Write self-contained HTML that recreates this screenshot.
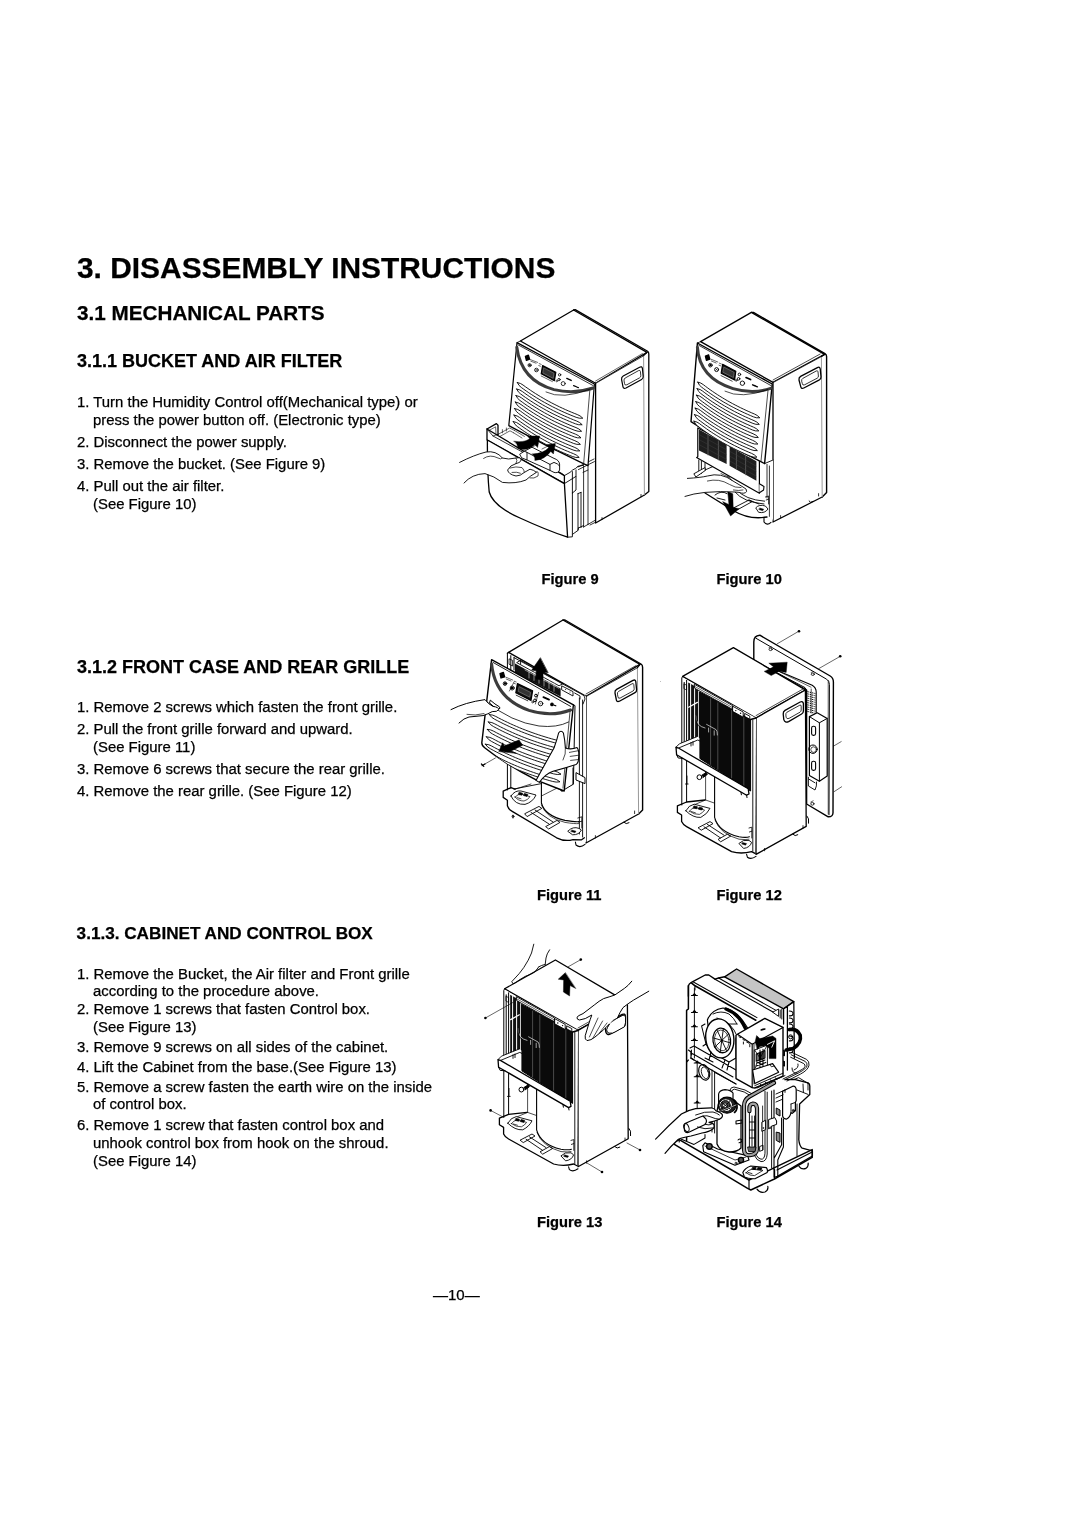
<!DOCTYPE html>
<html lang="en">
<head>
<meta charset="utf-8">
<title>3. Disassembly Instructions</title>
<style>
html,body{margin:0;padding:0;background:#fff;}
body{width:1080px;height:1527px;overflow:hidden;}
svg{display:block;will-change:transform;}
text{font-family:"Liberation Sans",Arial,Helvetica,sans-serif;fill:#000;white-space:pre;stroke:#000;stroke-width:0.25px;}
.h1{font-weight:bold;font-size:29.9px;}
.h2{font-weight:bold;font-size:20.7px;}
.h3{font-weight:bold;font-size:18px;}
.b{font-size:14.9px;}
.fl{font-weight:bold;font-size:14.7px;}
.ln{fill:none;stroke:#000;stroke-width:1.1;stroke-linecap:round;stroke-linejoin:round;}
.lt{fill:none;stroke:#000;stroke-width:0.7;stroke-linecap:round;stroke-linejoin:round;}
.lb{fill:none;stroke:#000;stroke-width:1.6;stroke-linecap:round;stroke-linejoin:round;}
.wf{fill:#fff;stroke:#000;stroke-width:1.1;stroke-linejoin:round;stroke-linecap:round;}
.bk{fill:#000;stroke:none;}
</style>
</head>
<body>
<svg width="1080" height="1527" viewBox="0 0 1080 1527">
<rect width="1080" height="1527" fill="#fff"/>
<!-- TEXT -->
<g id="text">
<text class="h1" x="77" y="277.5">3. DISASSEMBLY INSTRUCTIONS</text>
<text class="h2" x="77" y="320">3.1 MECHANICAL PARTS</text>
<text class="h3" x="77" y="367">3.1.1 BUCKET AND AIR FILTER</text>
<text class="b" x="77" y="407">1. Turn the Humidity Control off(Mechanical type) or</text>
<text class="b" x="93" y="425">press the power button off. (Electronic type)</text>
<text class="b" x="77" y="446.6">2. Disconnect the power supply.</text>
<text class="b" x="77" y="468.7">3. Remove the bucket. (See Figure 9)</text>
<text class="b" x="77" y="490.6">4. Pull out the air filter.</text>
<text class="b" x="93" y="509.2">(See Figure 10)</text>

<text class="h3" x="77" y="672.6">3.1.2 FRONT CASE AND REAR GRILLE</text>
<text class="b" x="77" y="711.5">1. Remove 2 screws which fasten the front grille.</text>
<text class="b" x="77" y="733.7">2. Pull the front grille forward and upward.</text>
<text class="b" x="93" y="751.5">(See Figure 11)</text>
<text class="b" x="77" y="773.7">3. Remove 6 screws that secure the rear grille.</text>
<text class="b" x="77" y="795.9">4. Remove the rear grille. (See Figure 12)</text>

<text class="h3" x="76.6" y="938.9" style="font-size:17.15px">3.1.3. CABINET AND CONTROL BOX</text>
<text class="b" x="77" y="978.9">1. Remove the Bucket, the Air filter and Front grille</text>
<text class="b" x="93" y="996">according to the procedure above.</text>
<text class="b" x="77" y="1013.7">2. Remove 1 screws that fasten Control box.</text>
<text class="b" x="93" y="1031.5">(See Figure 13)</text>
<text class="b" x="77" y="1051.9">3. Remove 9 screws on all sides of the cabinet.</text>
<text class="b" x="77" y="1071.5">4. Lift the Cabinet from the base.(See Figure 13)</text>
<text class="b" x="77" y="1091.5">5. Remove a screw fasten the earth wire on the inside</text>
<text class="b" x="93" y="1109.3">of control box.</text>
<text class="b" x="77" y="1129.6">6. Remove 1 screw that fasten control box and</text>
<text class="b" x="93" y="1147.8">unhook control box from hook on the shroud.</text>
<text class="b" x="93" y="1165.6">(See Figure 14)</text>

<text class="fl" x="541.5" y="584.4">Figure 9</text>
<text class="fl" x="716.5" y="584.4">Figure 10</text>
<text class="fl" x="537" y="900">Figure 11</text>
<text class="fl" x="716.5" y="900">Figure 12</text>
<text class="fl" x="537" y="1227.2">Figure 13</text>
<text class="fl" x="716.5" y="1227.2">Figure 14</text>
<text class="b" x="433" y="1300" style="font-size:15px">—10—</text>
</g>
<!-- FIGURES -->
<g id="fig9" transform="translate(450,300) scale(0.2)" stroke-linecap="round" stroke-linejoin="round" fill="none" stroke="#000" stroke-width="6.5">
<path d="M352,205 L618,50 L985,262 L728,416 Z" fill="#fff"/>
<path d="M618,50 L626,48 L988,256 Q994,260 994,270 L994,957 L972,975" />
<path d="M728,405 L962,268" stroke-width="3"/>
<path d="M728,416 L968,278 L972,975 L728,1115 Z" fill="#fff" stroke="none"/>
<path d="M728,416 L728,1115 L972,975"/>
<path d="M728,417 L968,279" stroke-width="4"/>
<path d="M968,279 L972,975" stroke="#8c8c8c" stroke-width="4.5"/>
<path d="M968,278 L985,262"/>
<path d="M858,398 Q856,386 866,380 L948,336 Q960,330 962,342 L966,382 Q967,392 958,397 L880,440 Q868,446 865,434 Z" stroke-width="6"/>
<path d="M870,402 Q869,394 876,390 L943,353 Q951,349 952,357 L954,378 Q955,385 948,389 L884,424 Q874,429 873,420 Z" stroke-width="4"/>
<path d="M955,972 L955,984 M760,1088 L760,1097" stroke-width="4"/>
<path d="M668,830 L668,1135 M690,822 L690,1122 M690,1122 L728,1100 M668,1135 L690,1122 M700,1125 L726,1112" stroke-width="4"/>
<path d="M640,835 L720,795 M642,848 L722,808 M665,862 L690,850" stroke-width="4"/>
<path d="M335,213 L722,420 L690,828 L667,818 Q480,730 294,628 Z" fill="#fff" stroke-width="6"/>
<path d="M352,205 L335,213 M340,224 L716,428" stroke-width="4"/>
<path d="M700,440 L668,822" stroke-width="3.5"/>
<path d="M334,236 Q356,402 520,448 Q620,472 716,440" stroke="#3c3c3c" stroke-width="15"/>
<path d="M480,460 Q560,500 700,446" stroke-width="3.5"/>
<path d="M377,282 L392,276 L398,296 L382,302 Z" fill="#000"/>
<path d="M402,298 L438,312 M404,306 L430,316 M446,318 L456,322 M444,328 L452,331" stroke-width="3"/>
<circle cx="398" cy="326" r="8" stroke-width="4"/><circle cx="398" cy="326" r="2" fill="#000"/>
<circle cx="432" cy="350" r="9" stroke-width="4"/><path d="M428,346 L436,354 M436,346 L428,354" stroke-width="3"/>
<path d="M463,328 L529,362 L522,403 L456,369 Z" stroke-width="6" fill="#111"/>
<path d="M470,340 L520,366 L516,392 L466,366 Z" stroke-width="3" fill="#333" stroke="#888"/>
<path d="M456,380 L512,408" stroke-width="3"/>
<circle cx="548" cy="374" r="6" stroke-width="4"/><circle cx="545" cy="398" r="6" stroke-width="4"/><circle cx="533" cy="405" r="4" stroke-width="3"/>
<circle cx="566" cy="418" r="10" stroke-width="4"/>
<path d="M584,392 L606,402" stroke-width="7"/>
<path d="M618,428 L632,434 M636,436 L642,438" stroke-width="6"/>
<path d="M337.0,413.0 L352.5,417.4 L365.3,425.2 L377.4,434.0 L389.7,442.6 L402.1,451.1 L414.6,459.5 L427.3,467.7 L440.2,475.7 L453.2,483.6 L466.3,491.4 L479.6,499.0 L493.1,506.4 L506.7,513.7 L520.5,520.8 L534.4,527.8 L548.5,534.7 L562.7,541.4 L577.1,547.9 L591.6,554.3 L606.3,560.5 L621.1,566.6 L636.1,572.5 L650.7,579.7 L664.0,591.0 L664.0,591.0 L646.5,591.0 L630.7,586.5 L615.5,580.5 L600.5,574.4 L585.6,568.1 L570.9,561.6 L556.4,555.0 L542.0,548.2 L527.7,541.3 L513.6,534.2 L499.7,527.0 L485.9,519.6 L472.3,512.0 L458.8,504.3 L445.5,496.5 L432.3,488.5 L419.3,480.3 L406.4,472.0 L393.7,463.6 L381.1,454.9 L368.7,446.2 L356.4,437.2 L345.2,427.0 L337.0,413.0 Z" stroke-width="4.5" fill="#fff"/>
<path d="M333.6,445.5 L349.1,449.9 L362.0,457.7 L374.1,466.5 L386.3,475.2 L398.8,483.7 L411.3,492.0 L424.0,500.2 L436.9,508.3 L449.9,516.2 L463.1,524.0 L476.4,531.6 L489.9,539.0 L503.5,546.3 L517.3,553.5 L531.2,560.5 L545.3,567.3 L559.6,574.0 L574.0,580.6 L588.5,586.9 L603.2,593.2 L618.1,599.3 L633.1,605.2 L647.7,612.4 L661.0,623.7 L661.0,623.7 L643.5,623.7 L627.6,619.2 L612.5,613.2 L597.4,607.0 L582.6,600.7 L567.8,594.2 L553.3,587.6 L538.9,580.8 L524.6,573.9 L510.5,566.8 L496.5,559.6 L482.7,552.2 L469.1,544.6 L455.6,536.9 L442.2,529.1 L429.0,521.1 L416.0,512.9 L403.1,504.6 L390.4,496.1 L377.8,487.5 L365.3,478.7 L353.1,469.7 L341.8,459.5 L333.6,445.5 Z" stroke-width="4.5" fill="#fff"/>
<path d="M330.2,478.0 L345.8,482.4 L358.6,490.2 L370.7,499.0 L383.0,507.7 L395.4,516.2 L408.0,524.6 L420.7,532.8 L433.6,540.9 L446.7,548.8 L459.8,556.5 L473.2,564.2 L486.7,571.6 L500.3,578.9 L514.1,586.1 L528.1,593.1 L542.2,599.9 L556.4,606.6 L570.9,613.2 L585.4,619.6 L600.1,625.9 L615.0,632.0 L630.0,637.9 L644.7,645.1 L658.0,656.4 L658.0,656.4 L640.5,656.4 L624.6,651.9 L609.4,645.9 L594.4,639.7 L579.5,633.4 L564.7,626.9 L550.2,620.3 L535.7,613.5 L521.4,606.5 L507.3,599.4 L493.3,592.2 L479.5,584.8 L465.8,577.2 L452.3,569.5 L439.0,561.6 L425.8,553.6 L412.7,545.5 L399.8,537.1 L387.0,528.6 L374.4,520.0 L362.0,511.2 L349.7,502.3 L338.4,492.0 L330.2,478.0 Z" stroke-width="4.5" fill="#fff"/>
<path d="M326.8,510.5 L342.4,514.9 L355.2,522.7 L367.4,531.5 L379.7,540.2 L392.1,548.7 L404.7,557.1 L417.5,565.4 L430.4,573.4 L443.4,581.3 L456.6,589.1 L470.0,596.7 L483.5,604.2 L497.1,611.5 L511.0,618.7 L524.9,625.7 L539.1,632.6 L553.3,639.3 L567.8,645.9 L582.3,652.3 L597.1,658.5 L612.0,664.6 L627.0,670.6 L641.7,677.8 L655.0,689.1 L655.0,689.1 L637.4,689.1 L621.6,684.6 L606.4,678.5 L591.3,672.4 L576.4,666.0 L561.6,659.5 L547.0,652.9 L532.6,646.1 L518.3,639.2 L504.1,632.1 L490.2,624.8 L476.3,617.4 L462.6,609.8 L449.1,602.1 L435.7,594.2 L422.5,586.2 L409.4,578.0 L396.5,569.7 L383.7,561.2 L371.1,552.5 L358.6,543.7 L346.3,534.8 L335.1,524.5 L326.8,510.5 Z" stroke-width="4.5" fill="#fff"/>
<path d="M323.4,543.0 L339.0,547.4 L351.9,555.2 L364.0,564.1 L376.3,572.8 L388.8,581.3 L401.4,589.7 L414.2,597.9 L427.1,606.0 L440.2,613.9 L453.4,621.7 L466.8,629.3 L480.3,636.8 L494.0,644.1 L507.8,651.3 L521.8,658.3 L535.9,665.2 L550.2,671.9 L564.7,678.5 L579.3,684.9 L594.0,691.2 L608.9,697.3 L624.0,703.3 L638.7,710.5 L652.0,721.8 L652.0,721.8 L634.4,721.8 L618.5,717.3 L603.3,711.2 L588.2,705.0 L573.3,698.7 L558.5,692.2 L543.9,685.5 L529.5,678.7 L515.1,671.8 L501.0,664.7 L487.0,657.4 L473.1,650.0 L459.4,642.4 L445.9,634.7 L432.5,626.8 L419.2,618.8 L406.1,610.6 L393.2,602.2 L380.4,593.7 L367.8,585.1 L355.3,576.3 L343.0,567.3 L331.7,557.0 L323.4,543.0 Z" stroke-width="4.5" fill="#fff"/>
<path d="M320.0,575.5 L335.6,579.9 L348.5,587.7 L360.7,596.6 L373.0,605.3 L385.5,613.8 L398.1,622.2 L410.9,630.5 L423.8,638.6 L436.9,646.5 L450.1,654.3 L463.5,661.9 L477.1,669.4 L490.8,676.7 L504.6,683.9 L518.6,691.0 L532.8,697.8 L547.1,704.6 L561.6,711.2 L576.2,717.6 L590.9,723.9 L605.9,730.0 L620.9,736.0 L635.7,743.1 L649.0,754.5 L649.0,754.5 L631.4,754.4 L615.5,749.9 L600.3,743.9 L585.2,737.7 L570.2,731.3 L555.4,724.8 L540.8,718.2 L526.3,711.4 L512.0,704.4 L497.8,697.3 L483.8,690.0 L469.9,682.6 L456.2,675.0 L442.6,667.3 L429.2,659.4 L416.0,651.3 L402.8,643.1 L389.9,634.8 L377.1,626.3 L364.4,617.6 L351.9,608.8 L339.6,599.8 L328.3,589.5 L320.0,575.5 Z" stroke-width="4.5" fill="#fff"/>
<path d="M316.6,608.0 L332.2,612.4 L345.1,620.3 L357.3,629.1 L369.7,637.8 L382.2,646.4 L394.8,654.8 L407.6,663.0 L420.6,671.1 L433.7,679.1 L446.9,686.9 L460.3,694.5 L473.9,702.0 L487.6,709.4 L501.5,716.5 L515.5,723.6 L529.7,730.5 L544.0,737.2 L558.5,743.8 L573.1,750.2 L587.9,756.5 L602.8,762.7 L617.9,768.6 L632.6,775.8 L646.0,787.2 L646.0,787.2 L628.4,787.1 L612.5,782.6 L597.2,776.6 L582.1,770.4 L567.1,764.0 L552.3,757.5 L537.7,750.8 L523.2,744.0 L508.8,737.0 L494.6,729.9 L480.6,722.6 L466.7,715.2 L453.0,707.6 L439.4,699.9 L426.0,692.0 L412.7,683.9 L399.6,675.7 L386.6,667.3 L373.8,658.8 L361.1,650.1 L348.6,641.3 L336.2,632.3 L324.9,622.0 L316.6,608.0 Z" stroke-width="4.5" fill="#fff"/>
<path d="M185,645 L232,618 L240,626 L240,672 L300,640 L330,655 L560,790 L640,838 L572,878 L185,700 Z" fill="#fff" stroke="none"/>
<path d="M185,645 L232,618 L240,626 L240,672" />
<path d="M196,652 L228,634 L230,668 M214,690 L240,672" stroke-width="3"/>
<path d="M240,672 L298,640 L322,652 M250,682 L300,654 L318,664 M262,648 L262,664 M282,640 L282,655" stroke-width="3"/>
<path d="M318,664 L360,690 M322,652 L372,682" stroke-width="3"/>
<path d="M185,645 L185,700 L572,918 L572,878 Z" fill="#fff"/>
<path d="M185,645 L215,680 L560,868 L572,878" stroke-width="4"/>
<path d="M215,680 L240,672" stroke-width="3"/>
<path d="M572,878 L600,862 Q612,848 628,842 L640,832 M572,918 L630,882 L630,850 M612,858 L612,965" stroke-width="4.5"/>
<path d="M640,832 L668,826" stroke-width="5"/>
<path d="M187,700 Q186,860 196,960 Q215,1030 350,1090 Q480,1150 588,1186 L572,918 Z" fill="#fff"/>
<path d="M588,1186 L612,1184 L612,1172 L640,1152 L642,1140 M612,965 L612,1172 M612,965 L630,950 L630,882 M640,968 L640,1150 M655,962 L655,1138 M640,968 L655,962 M642,1140 L668,1128" stroke-width="4.5"/>
<path d="M350,770 L372,756 L385,762 L385,800 L360,790 Z M385,762 L500,822 L500,852 L385,800 M372,756 L410,736 L520,792 Q545,800 548,820 L548,850 Q540,868 520,862 L500,852 M500,822 L520,812 Q540,818 548,830" fill="#fff" stroke-width="4.5"/>
<path d="M410,736 L440,720 M460,745 L490,730 L530,752" stroke-width="3"/>
<path d="M320,706 Q370,714 398,694 L388,680 L448,680 L438,738 L425,722 Q382,760 336,740 Q342,722 320,706 Z" fill="#000" stroke-width="2"/>
<path d="M412,770 Q468,768 494,738 L482,724 L527,717 L517,770 L504,757 Q474,798 424,802 Q428,786 412,770 Z" fill="#000" stroke-width="2"/>
<path d="M48,812 Q120,775 180,760 Q230,752 262,790 Q290,800 330,790 Q355,785 356,800 Q352,815 330,818 Q300,826 288,850 Q292,872 330,880 Q352,880 372,862 L400,846 Q420,850 432,862 Q400,880 380,900 Q330,920 262,912 Q220,880 175,868 Q110,870 70,915" fill="#fff" stroke-width="4.5"/>
<path d="M168,792 Q200,770 240,790 Q255,800 262,790 M330,790 Q340,800 330,818 M300,840 Q330,830 360,838 Q372,850 372,862 M310,862 Q335,858 352,866 M430,860 Q445,850 440,880 Q420,895 400,890" stroke-width="3.5"/>
</g>
<g id="fig10" transform="translate(655,300) scale(0.2)" stroke-linecap="round" stroke-linejoin="round" fill="none" stroke="#000" stroke-width="6.5">
<path d="M228,208 L482,62 L848,272 L590,412 Z" fill="#fff"/>
<path d="M482,62 L492,62 L850,268 Q858,273 858,283 L858,962 L836,985" stroke-width="7"/>
<path d="M590,400 L826,270" stroke-width="3.5"/>
<path d="M590,412 L832,282 L836,985 L590,1110 Z" fill="#fff" stroke="none"/>
<path d="M590,412 L590,1110 L836,985"/>
<path d="M590,413 L832,283" stroke-width="4"/>
<path d="M832,283 L836,985" stroke="#8c8c8c" stroke-width="4.5"/>
<path d="M832,282 L848,272"/>
<path d="M720,400 Q718,388 728,382 L812,338 Q824,332 826,344 L830,384 Q831,394 822,399 L744,440 Q732,446 729,434 Z" stroke-width="6.5"/>
<path d="M733,404 Q732,396 739,392 L806,355 Q814,351 815,359 L817,380 Q818,387 811,391 L748,424 Q738,429 737,420 Z" stroke-width="4"/>
<path d="M818,968 L818,980 M628,1078 L628,1088" stroke-width="4"/>
<path d="M770,1005 Q776,1018 790,1008" stroke-width="5"/>
<path d="M214,640 L214,800 L560,1000 L590,1110 L590,800 Z" fill="#fff" stroke="none"/>
<path d="M219,800 L219,862 M232,806 L232,868 M250,815 L250,850" stroke-width="4.5"/>
<path d="M196,868 L250,838 L252,852 L206,884 Z" stroke-width="4.5" fill="#fff"/>
<path d="M250,850 L300,828 L330,842" stroke-width="4.5"/>
<path d="M300,975 Q330,950 360,968 M310,990 L350,1000 M400,960 Q440,1010 545,1020 M410,950 Q450,998 548,1006" stroke-width="4.5"/>
<path d="M392,1040 L470,1000 L486,1008 L410,1050 M470,1000 L520,1020" stroke-width="4.5"/>
<path d="M505,1038 Q520,1020 552,1030 L565,1045 Q550,1068 520,1062 Z" stroke-width="4.5" fill="#fff"/>
<path d="M524,1040 L544,1046 L538,1054 L520,1048 Z" fill="#000" stroke-width="2"/>
<path d="M250,965 L395,1055 Q470,1100 560,1085" stroke-width="6.5"/>
<path d="M552,985 L568,980 L568,1020 M556,1000 L568,996" stroke-width="4"/>
<path d="M545,1092 L545,1110 Q560,1130 580,1112" stroke-width="5.5"/>
<path d="M572,830 L572,1082 M560,822 L560,990" stroke-width="4"/>
<path d="M214,640 L214,783 L208,788 L522,966 L522,800 Z" fill="#fff" stroke-width="6"/>
<path d="M220,648 L358,724 L358,820 L220,752 Z" fill="#1e1e1e" stroke="none"/>
<path d="M373,732 L507,806 L507,904 L373,829 Z" fill="#1e1e1e" stroke="none"/>
<path d="M265,672 L265,775 M317,700 L317,800 M407,752 L407,848 M453,777 L453,874" stroke="#6a6a6a" stroke-width="3.5"/>
<path d="M224,700 L356,772 M376,782 L505,855 M224,675 L356,748 M224,725 L356,796 M376,758 L505,830 M376,806 L505,880" stroke="#3c3c3c" stroke-width="2.5"/>
<path d="M522,919 L545,932 L543,950 L522,964" stroke-width="5.5" fill="#fff"/>
<path d="M212,215 L586,420 L548,818 Q350,720 180,608 Z" fill="#fff" stroke-width="7"/>
<path d="M228,208 L212,215 M218,226 L580,428" stroke-width="4"/>
<path d="M566,442 L530,806" stroke-width="3.5"/>
<path d="M548,818 L590,800" stroke-width="4.5"/>
<path d="M212,236 Q222,392 390,443 Q490,472 578,442" stroke="#3c3c3c" stroke-width="15"/>
<path d="M350,456 Q430,496 564,448" stroke-width="3.5"/>
<path d="M252,280 L268,274 L274,296 L257,302 Z" fill="#000"/>
<path d="M280,296 L314,310 M282,305 L306,315 M322,316 L332,320 M320,326 L328,329" stroke-width="3"/>
<circle cx="277" cy="326" r="9" stroke-width="4.5"/><circle cx="277" cy="326" r="2.5" fill="#000"/>
<circle cx="308" cy="348" r="10" stroke-width="4.5"/><path d="M304,344 L312,352 M312,344 L304,352" stroke-width="3"/>
<path d="M338,322 L404,356 L398,400 L331,366 Z" stroke-width="6" fill="#111"/>
<path d="M346,336 L396,362 L392,388 L341,362 Z" stroke-width="3" fill="#333" stroke="#888"/>
<path d="M330,378 L386,406" stroke-width="3.5"/>
<circle cx="422" cy="372" r="6.5" stroke-width="4.5"/><circle cx="418" cy="394" r="6.5" stroke-width="4.5"/><circle cx="406" cy="402" r="4.5" stroke-width="3.5"/>
<circle cx="437" cy="416" r="11" stroke-width="4.5"/>
<path d="M455,388 L478,398" stroke-width="8"/>
<path d="M488,424 L502,430 M506,432 L512,434" stroke-width="7"/>
<path d="M214.0,411.0 L228.9,415.3 L241.1,423.0 L252.4,431.6 L264.0,440.2 L275.7,448.6 L287.5,456.8 L299.5,464.9 L311.6,472.9 L323.9,480.8 L336.4,488.5 L349.0,496.1 L361.7,503.5 L374.6,510.8 L387.7,518.0 L400.9,525.0 L414.3,531.9 L427.8,538.6 L441.5,545.2 L455.3,551.7 L469.3,558.0 L483.4,564.2 L497.7,570.3 L511.6,577.6 L524.0,589.0 L524.0,589.0 L507.1,588.8 L491.9,584.1 L477.5,578.0 L463.2,571.7 L449.0,565.3 L435.0,558.8 L421.2,552.1 L407.5,545.2 L394.0,538.3 L380.6,531.2 L367.3,523.9 L354.3,516.5 L341.3,509.0 L328.6,501.3 L315.9,493.5 L303.5,485.5 L291.2,477.4 L279.0,469.2 L267.0,460.8 L255.1,452.3 L243.4,443.6 L231.9,434.8 L221.4,424.7 L214.0,411.0 Z" stroke-width="4.5" fill="#fff"/>
<path d="M210.8,443.5 L225.7,447.8 L237.9,455.5 L249.3,464.2 L260.9,472.7 L272.6,481.1 L284.5,489.4 L296.5,497.5 L308.7,505.5 L321.0,513.4 L333.5,521.1 L346.1,528.7 L358.9,536.1 L371.9,543.5 L385.0,550.6 L398.2,557.7 L411.6,564.6 L425.2,571.3 L438.9,578.0 L452.7,584.4 L466.7,590.8 L480.9,597.0 L495.2,603.1 L509.2,610.4 L521.6,621.8 L521.6,621.8 L504.6,621.6 L489.5,616.9 L475.0,610.8 L460.6,604.5 L446.5,598.1 L432.4,591.5 L418.6,584.8 L404.8,577.9 L391.3,571.0 L377.8,563.8 L364.6,556.6 L351.5,549.2 L338.5,541.6 L325.7,533.9 L313.0,526.1 L300.5,518.1 L288.2,510.0 L276.0,501.8 L264.0,493.4 L252.1,484.8 L240.3,476.2 L228.8,467.4 L218.2,457.3 L210.8,443.5 Z" stroke-width="4.5" fill="#fff"/>
<path d="M207.6,476.0 L222.6,480.3 L234.8,488.0 L246.2,496.7 L257.8,505.3 L269.6,513.7 L281.5,522.0 L293.5,530.1 L305.8,538.1 L318.1,546.0 L330.6,553.7 L343.3,561.3 L356.1,568.8 L369.1,576.1 L382.2,583.3 L395.5,590.4 L408.9,597.3 L422.5,604.0 L436.3,610.7 L450.2,617.2 L464.2,623.5 L478.4,629.8 L492.8,635.9 L506.7,643.2 L519.2,654.6 L519.2,654.6 L502.2,654.4 L487.0,649.7 L472.5,643.5 L458.1,637.2 L443.9,630.8 L429.8,624.2 L415.9,617.5 L402.2,610.6 L388.6,603.6 L375.1,596.5 L361.8,589.2 L348.7,581.8 L335.7,574.2 L322.8,566.5 L310.2,558.7 L297.6,550.7 L285.2,542.6 L273.0,534.3 L260.9,525.9 L249.0,517.4 L237.2,508.7 L225.6,499.9 L215.1,489.8 L207.6,476.0 Z" stroke-width="4.5" fill="#fff"/>
<path d="M204.4,508.5 L219.4,512.8 L231.6,520.5 L243.1,529.2 L254.8,537.8 L266.5,546.2 L278.5,554.5 L290.6,562.7 L302.8,570.7 L315.2,578.6 L327.8,586.4 L340.5,594.0 L353.3,601.4 L366.3,608.8 L379.5,616.0 L392.8,623.0 L406.3,630.0 L419.9,636.8 L433.7,643.4 L447.6,649.9 L461.7,656.3 L475.9,662.5 L490.3,668.6 L504.3,675.9 L516.8,687.4 L516.8,687.4 L499.8,687.1 L484.5,682.5 L470.0,676.3 L455.6,670.0 L441.3,663.5 L427.2,656.9 L413.3,650.2 L399.5,643.3 L385.9,636.3 L372.4,629.2 L359.1,621.9 L345.9,614.5 L332.8,606.9 L320.0,599.2 L307.3,591.3 L294.7,583.3 L282.3,575.2 L270.0,566.9 L257.9,558.5 L245.9,549.9 L234.1,541.2 L222.5,532.4 L211.9,522.3 L204.4,508.5 Z" stroke-width="4.5" fill="#fff"/>
<path d="M201.2,541.0 L216.2,545.3 L228.5,553.0 L240.0,561.8 L251.7,570.4 L263.5,578.8 L275.5,587.1 L287.6,595.3 L299.9,603.3 L312.3,611.2 L324.9,619.0 L337.6,626.6 L350.5,634.1 L363.6,641.4 L376.8,648.7 L390.1,655.7 L403.6,662.7 L417.3,669.5 L431.1,676.1 L445.0,682.7 L459.1,689.0 L473.4,695.3 L487.8,701.4 L501.8,708.7 L514.4,720.2 L514.4,720.2 L497.3,719.9 L482.1,715.2 L467.5,709.1 L453.0,702.7 L438.8,696.3 L424.6,689.7 L410.7,682.9 L396.8,676.0 L383.2,669.0 L369.7,661.9 L356.3,654.6 L343.1,647.1 L330.0,639.5 L317.1,631.8 L304.4,623.9 L291.8,615.9 L279.3,607.8 L267.0,599.5 L254.9,591.1 L242.9,582.5 L231.1,573.8 L219.4,564.9 L208.7,554.8 L201.2,541.0 Z" stroke-width="4.5" fill="#fff"/>
<path d="M198.0,573.5 L213.1,577.8 L225.4,585.6 L236.9,594.3 L248.6,602.9 L260.5,611.4 L272.5,619.7 L284.6,627.9 L297.0,635.9 L309.4,643.8 L322.0,651.6 L334.8,659.2 L347.7,666.7 L360.8,674.1 L374.0,681.3 L387.4,688.4 L400.9,695.4 L414.6,702.2 L428.5,708.8 L442.5,715.4 L456.6,721.8 L470.9,728.0 L485.4,734.2 L499.4,741.5 L512.0,753.0 L512.0,753.0 L494.9,752.7 L479.6,748.0 L465.0,741.8 L450.5,735.5 L436.2,729.0 L422.0,722.4 L408.0,715.6 L394.2,708.7 L380.5,701.7 L366.9,694.5 L353.5,687.2 L340.3,679.8 L327.2,672.2 L314.2,664.4 L301.5,656.5 L288.8,648.5 L276.3,640.4 L264.0,632.1 L251.8,623.6 L239.8,615.0 L228.0,606.3 L216.2,597.5 L205.6,587.3 L198.0,573.5 Z" stroke-width="4.5" fill="#fff"/>
<path d="M194.8,606.0 L209.9,610.4 L222.2,618.1 L233.8,626.8 L245.6,635.4 L257.4,643.9 L269.5,652.3 L281.7,660.5 L294.0,668.5 L306.5,676.4 L319.2,684.2 L332.0,691.9 L344.9,699.4 L358.0,706.8 L371.3,714.0 L384.7,721.1 L398.3,728.1 L412.0,734.9 L425.9,741.6 L439.9,748.1 L454.1,754.5 L468.4,760.8 L482.9,766.9 L497.0,774.3 L509.6,785.8 L509.6,785.8 L492.5,785.5 L477.1,780.8 L462.5,774.6 L448.0,768.2 L433.6,761.8 L419.4,755.1 L405.4,748.4 L391.5,741.4 L377.8,734.4 L364.2,727.2 L350.8,719.9 L337.5,712.4 L324.4,704.8 L311.4,697.1 L298.6,689.2 L285.9,681.1 L273.4,673.0 L261.0,664.6 L248.8,656.2 L236.8,647.6 L224.9,638.9 L213.1,630.0 L202.4,619.8 L194.8,606.0 Z" stroke-width="4.5" fill="#fff"/>
<path d="M364,958 L389,969 L391,1036 L420,1044 L378,1080 L338,1008 L369,1022 Z" fill="#000" stroke-width="2"/>
<path d="M162,892 Q230,888 262,880 Q330,860 390,905 L440,935 Q462,945 458,958 Q448,972 420,962 L400,960 Q330,955 250,962 Q190,968 150,982" fill="#fff" stroke-width="4.5"/>
<path d="M262,905 Q320,890 372,922 Q400,940 430,938 M392,950 Q420,955 440,950" stroke-width="3.5"/>
<path d="M330,868 L372,888 L384,902 M372,888 L360,878" stroke-width="3.5"/>
</g>
<g id="fig11" transform="translate(445,610) scale(0.2)" stroke-linecap="round" stroke-linejoin="round" fill="none" stroke="#000" stroke-width="6.5">
<path d="M318,212 L590,50 L975,272 L705,432 Z" fill="#fff"/>
<path d="M590,50 L600,50 L980,270 Q988,275 988,286 L988,1000 L968,1020" stroke-width="7"/>
<path d="M705,420 L955,278" stroke-width="3.5"/>
<path d="M705,432 L962,288 L968,1020 L705,1165 Z" fill="#fff" stroke="none"/>
<path d="M705,432 L705,1165 L968,1020"/>
<path d="M705,433 L962,289" stroke-width="4"/>
<path d="M962,289 L968,1020" stroke="#8c8c8c" stroke-width="4.5"/>
<path d="M962,288 L975,272"/>
<path d="M850,415 Q848,403 858,397 L940,352 Q952,346 954,358 L958,398 Q959,408 950,413 L872,456 Q860,462 857,450 Z" stroke-width="6.5"/>
<path d="M862,419 Q861,411 868,407 L935,369 Q943,365 944,373 L946,394 Q947,401 940,405 L876,440 Q866,445 865,436 Z" stroke-width="4"/>
<path d="M948,1005 L948,1018 M752,1128 L752,1140" stroke-width="4"/>
<path d="M895,1062 Q905,1074 920,1064" stroke-width="5"/>
<path d="M312,216 L312,905 L690,1140 L705,1165 L705,432 Z" fill="#fff" stroke="none"/>
<path d="M312,216 L312,900 M329,228 L329,890 M345,238 L345,300" stroke-width="5"/>
<path d="M318,212 L312,216" />
<path d="M322,245 L338,252 L338,280 L322,272 Z" stroke-width="4"/>
<path d="M345,238 L690,425 M360,262 L378,252 L590,368 L572,378 Z M378,252 L378,270 M585,380 L640,408 L640,430 L585,400 Z" stroke-width="4.5"/>
<circle cx="603" cy="398" r="2.5" fill="#000" stroke="none"/><circle cx="625" cy="410" r="2.5" fill="#000" stroke="none"/>
<path d="M648,415 L675,430 L675,445 M690,425 Q700,430 700,445 L690,470" stroke-width="4.5"/>
<path d="M350,268 L578,392 L578,432 L350,312 Z" fill="#111" stroke="none"/>
<path d="M420,300 L420,340 M445,312 L445,352 M470,326 L470,366 M495,340 L495,380 M520,352 L520,392 M545,366 L545,406" stroke="#ddd" stroke-width="3"/>
<path d="M400,300 L570,392" stroke="#ddd" stroke-width="3"/>
<path d="M672,440 L672,1120 M688,450 L688,1135" stroke-width="4.5"/>
<path d="M655,815 L655,850 L700,868 L700,840 Z" stroke-width="5" fill="#fff"/>
<path d="M291,906 L330,888 L350,896 M291,906 L291,937 L312,951 L312,979 Q318,998 336,1007 L558,1139 Q600,1160 640,1148 L683,1149 L697,1139" stroke-width="6.5"/>
<path d="M330,930 Q350,900 380,905 L455,925 Q440,960 400,972 Q350,975 330,930 Z" stroke-width="4.5" fill="#fff"/>
<path d="M350,935 Q365,918 385,922 L425,933 Q415,950 395,955 Q365,955 350,935 Z" stroke-width="3.5"/>
<path d="M372,912 L388,916 L384,926 L368,922 Z M398,918 L414,922 L410,932 L394,928 Z M360,938 L380,944" stroke-width="3.5" fill="#000"/>
<path d="M345,895 L482,868 M400,1018 L470,982 L484,992 L412,1032 Z M505,1082 L560,1052 L575,1062 L520,1094 Z M450,1000 L540,1060 M430,1012 L520,1070" stroke-width="4.5"/>
<path d="M615,1105 Q640,1080 670,1092 L682,1100 Q670,1125 640,1124 Z" stroke-width="4.5" fill="#fff"/>
<path d="M634,1100 L655,1106 L650,1114 L630,1108 Z" fill="#000" stroke-width="2"/>
<path d="M664,1040 L684,1034 L684,1090 M668,1060 L684,1056" stroke-width="4"/>
<path d="M652,1160 L655,1175 Q675,1192 700,1172" stroke-width="5.5"/>
<path d="M340,1026 L340,1040" stroke-width="5"/><circle cx="340" cy="1032" r="5" stroke-width="3.5"/>
<path d="M482,850 L482,965 Q500,1030 600,1052 Q650,1060 670,1058" stroke-width="5.5"/>
<path d="M482,975 Q505,1040 600,1062 Q650,1070 668,1068" stroke-width="3.5"/>
<path d="M350,896 L430,870 M482,930 L600,870" stroke-width="3.5"/>
<path d="M585,905 L640,872 L640,480 L600,700 Z" fill="#fff" stroke="none"/>
<path d="M585,905 L640,872 L640,790 M585,905 L585,830 M500,850 L585,905" stroke-width="5"/>
<path d="M233,248 L642,474 L596,905 L460,852 Q300,770 200,690 Q184,680 184,664 Z" fill="#fff" stroke-width="7"/>
<path d="M642,474 L650,478 L642,870" stroke-width="5"/>
<path d="M240,262 L628,482" stroke-width="4.5"/>
<path d="M626,496 L590,890" stroke-width="3.5"/>
<path d="M233,270 Q250,442 420,502 Q530,537 628,500" stroke="#3c3c3c" stroke-width="15"/>
<path d="M210,460 Q330,560 470,580 Q560,590 618,560" stroke-width="4"/>
<path d="M275,318 L292,312 L298,334 L280,340 Z" fill="#000"/>
<path d="M304,336 L338,350 M306,345 L330,355 M346,356 L356,360 M344,366 L352,369" stroke-width="3"/>
<circle cx="300" cy="368" r="9" stroke-width="4.5"/><circle cx="300" cy="368" r="3" fill="#000"/>
<circle cx="336" cy="390" r="10" stroke-width="4.5"/><circle cx="336" cy="390" r="3.5" fill="#000"/>
<path d="M322,405 L345,360" stroke-width="3"/>
<path d="M362,368 L438,404 L430,452 L354,414 Z" stroke-width="6" fill="#111"/>
<path d="M372,384 L428,412 L424,436 L368,408 Z" stroke-width="3" fill="#333" stroke="#888"/>
<path d="M356,426 L414,454" stroke-width="4"/>
<circle cx="455" cy="428" r="7" stroke-width="5"/><circle cx="450" cy="452" r="7" stroke-width="5"/><circle cx="438" cy="460" r="4.5" stroke-width="3.5"/>
<path d="M468,412 L452,470" stroke-width="3"/>
<circle cx="478" cy="468" r="11" stroke-width="4.5"/><circle cx="478" cy="468" r="4" fill="#888" stroke="none"/>
<path d="M492,436 L520,448" stroke-width="9"/>
<circle cx="535" cy="472" r="6" fill="#000"/><path d="M546,476 L554,479" stroke-width="6"/>
<clipPath id="cp11"><path d="M233,248 L642,474 L596,905 L460,852 Q300,770 200,690 Q184,680 184,664 Z"/></clipPath>
<g clip-path="url(#cp11)">
<path d="M222.0,523.0 L239.1,525.7 L254.0,532.2 L268.4,539.9 L282.8,547.3 L297.5,554.6 L312.2,561.7 L327.1,568.7 L342.2,575.5 L357.3,582.1 L372.7,588.6 L388.1,594.9 L403.7,601.0 L419.4,607.0 L435.3,612.8 L451.3,618.4 L467.5,623.9 L483.8,629.2 L500.2,634.3 L516.8,639.3 L533.5,644.1 L550.3,648.8 L567.3,653.2 L584.1,659.0 L600.0,669.0 L600.0,669.0 L581.2,670.7 L563.6,667.8 L546.4,663.2 L529.4,658.6 L512.5,653.7 L495.8,648.7 L479.2,643.5 L462.7,638.1 L446.4,632.6 L430.2,626.9 L414.2,621.0 L398.3,615.0 L382.5,608.8 L366.9,602.4 L351.4,595.9 L336.1,589.2 L320.9,582.3 L305.8,575.3 L290.8,568.1 L276.1,560.7 L261.4,553.1 L246.9,545.4 L233.2,536.3 L222.0,523.0 Z" stroke-width="4.5" fill="#fff"/>
<path d="M217.0,560.0 L234.1,562.8 L249.0,569.3 L263.4,577.0 L277.8,584.5 L292.5,591.8 L307.2,599.0 L322.1,606.0 L337.2,612.8 L352.3,619.5 L367.7,626.0 L383.1,632.3 L398.7,638.5 L414.5,644.5 L430.3,650.4 L446.3,656.0 L462.5,661.6 L478.8,666.9 L495.2,672.1 L511.8,677.1 L528.5,682.0 L545.3,686.6 L562.3,691.2 L579.1,696.9 L595.0,707.0 L595.0,707.0 L576.2,708.6 L558.6,705.7 L541.4,701.1 L524.4,696.4 L507.5,691.5 L490.8,686.4 L474.2,681.2 L457.7,675.8 L441.4,670.2 L425.2,664.5 L409.2,658.6 L393.3,652.5 L377.5,646.2 L361.9,639.8 L346.4,633.3 L331.1,626.5 L315.8,619.6 L300.8,612.5 L285.8,605.3 L271.0,597.8 L256.4,590.3 L241.9,582.5 L228.2,573.3 L217.0,560.0 Z" stroke-width="4.5" fill="#fff"/>
<path d="M212.0,597.0 L229.1,599.8 L244.0,606.4 L258.4,614.1 L272.9,621.7 L287.5,629.0 L302.2,636.2 L317.1,643.3 L332.2,650.2 L347.4,656.9 L362.7,663.4 L378.1,669.8 L393.7,676.0 L409.5,682.1 L425.3,688.0 L441.4,693.7 L457.5,699.2 L473.8,704.6 L490.2,709.8 L506.8,714.9 L523.5,719.8 L540.4,724.5 L557.3,729.1 L574.1,734.9 L590.0,745.0 L590.0,745.0 L571.2,746.6 L553.5,743.6 L536.4,739.0 L519.4,734.2 L502.5,729.3 L485.8,724.2 L469.2,718.9 L452.7,713.4 L436.4,707.8 L420.2,702.0 L404.2,696.1 L388.3,690.0 L372.5,683.7 L356.9,677.2 L341.4,670.6 L326.0,663.8 L310.8,656.9 L295.8,649.8 L280.8,642.5 L266.0,635.0 L251.4,627.4 L236.9,619.6 L223.2,610.3 L212.0,597.0 Z" stroke-width="4.5" fill="#fff"/>
<path d="M207.0,634.0 L224.1,636.9 L239.1,643.5 L253.4,651.3 L267.9,658.8 L282.5,666.2 L297.3,673.5 L312.2,680.6 L327.2,687.5 L342.4,694.3 L357.7,700.8 L373.2,707.3 L388.8,713.5 L404.5,719.6 L420.4,725.5 L436.4,731.3 L452.5,736.9 L468.8,742.3 L485.2,747.6 L501.8,752.7 L518.5,757.6 L535.4,762.4 L552.4,767.0 L569.1,772.9 L585.0,783.0 L585.0,783.0 L566.2,784.6 L548.5,781.5 L531.4,776.9 L514.4,772.0 L497.5,767.1 L480.8,761.9 L464.2,756.6 L447.7,751.1 L431.4,745.4 L415.2,739.6 L399.2,733.6 L383.2,727.5 L367.5,721.2 L351.9,714.7 L336.4,708.0 L321.0,701.2 L305.8,694.2 L290.7,687.0 L275.8,679.7 L261.0,672.2 L246.4,664.5 L231.8,656.7 L218.2,647.4 L207.0,634.0 Z" stroke-width="4.5" fill="#fff"/>
<path d="M202.0,671.0 L219.1,673.9 L234.1,680.6 L248.4,688.4 L262.9,696.0 L277.5,703.5 L292.3,710.8 L307.2,717.9 L322.2,724.8 L337.4,731.6 L352.7,738.3 L368.2,744.7 L383.8,751.0 L399.5,757.2 L415.4,763.1 L431.4,768.9 L447.5,774.6 L463.8,780.0 L480.3,785.3 L496.8,790.5 L513.5,795.5 L530.4,800.3 L547.4,804.9 L564.1,810.8 L580.0,821.0 L580.0,821.0 L561.2,822.5 L543.5,819.4 L526.4,814.7 L509.3,809.9 L492.5,804.8 L475.7,799.7 L459.1,794.3 L442.7,788.8 L426.4,783.1 L410.2,777.2 L394.1,771.2 L378.2,765.0 L362.5,758.6 L346.8,752.1 L331.4,745.4 L316.0,738.5 L300.8,731.5 L285.7,724.2 L270.8,716.9 L256.0,709.3 L241.3,701.6 L226.8,693.7 L213.2,684.4 L202.0,671.0 Z" stroke-width="4.5" fill="#fff"/>
<path d="M197.0,708.0 L214.1,711.0 L229.1,717.7 L243.4,725.5 L257.9,733.2 L272.5,740.7 L287.3,748.0 L302.2,755.2 L317.2,762.2 L332.4,769.0 L347.7,775.7 L363.2,782.2 L378.8,788.5 L394.5,794.7 L410.4,800.7 L426.4,806.6 L442.6,812.2 L458.8,817.8 L475.3,823.1 L491.9,828.3 L508.6,833.3 L525.4,838.2 L542.4,842.8 L559.2,848.8 L575.0,859.0 L575.0,859.0 L556.1,860.5 L538.5,857.3 L521.3,852.6 L504.3,847.7 L487.5,842.6 L470.7,837.4 L454.1,832.0 L437.7,826.4 L421.3,820.7 L405.2,814.8 L389.1,808.7 L373.2,802.5 L357.5,796.1 L341.8,789.5 L326.3,782.7 L311.0,775.8 L295.8,768.7 L280.7,761.5 L265.8,754.1 L251.0,746.5 L236.3,738.7 L221.8,730.8 L208.2,721.4 L197.0,708.0 Z" stroke-width="4.5" fill="#fff"/>
<path d="M228,452 Q250,472 272,484 q8,8 -4,12 Q240,484 224,466 Z" stroke-width="5"/>
</g>
<path d="M270,706 L288,664 L296,680 L370,650 L388,676 L328,706 L354,716 Z" fill="#000" stroke-width="3"/>
<path d="M476,240 L434,300 L456,304 L455,345 L490,350 L490,310 L514,313 Z" fill="#000" stroke-width="3"/>
<path d="M196,772 L252,740" stroke-width="3"/><path d="M182,770 L194,782 M186,778 L200,770" stroke-width="6"/>
<path d="M30,498 Q100,462 200,448 Q215,470 240,482 Q270,486 268,498 Q262,510 236,508 Q215,520 190,528 L120,535 Q95,540 70,565" fill="#fff" stroke-width="5"/>
<path d="M110,522 Q150,530 195,518" stroke-width="3.5"/>
<path d="M455,852 Q500,770 545,690 Q560,650 568,615 Q580,598 592,615 Q600,650 602,690 Q630,700 660,688 Q672,700 668,740 Q668,765 655,772 Q600,790 540,806 Q500,820 472,862 Z" fill="#fff" stroke-width="5.5"/>
<path d="M622,712 L664,704 M626,732 L668,726 M628,752 L664,748 M602,690 Q606,720 590,750" stroke-width="3.5"/>
</g>
<g id="fig12" transform="translate(655,610) scale(0.2)" stroke-linecap="round" stroke-linejoin="round" fill="none" stroke="#000" stroke-width="6.5">
<path d="M494,160 Q494,128 524,126 L876,330 Q892,340 892,360 L890,1015 Q888,1035 866,1034 L758,970 L758,400 L494,250 Z" fill="#fff" stroke-width="7"/>
<path d="M506,142 L858,346 Q872,354 872,372 L870,1024" stroke-width="5"/>
<path d="M866,352 L866,1020" stroke-width="3"/>
<path d="M611,303 L786,376 Q806,388 806,410 L806,512" stroke-width="5.5"/>
<path d="M617,318 L750,388 Q757,394 757,410 L757,520" stroke-width="5"/>
<path d="M625,310 L780,386" stroke-width="3"/>
<path d="M762,408 L802,418" stroke-width="5" stroke-dasharray="7 5" stroke-linecap="butt"/>
<path d="M762,419 L802,429" stroke-width="5" stroke-dasharray="7 5" stroke-linecap="butt"/>
<path d="M762,430 L802,440" stroke-width="5" stroke-dasharray="7 5" stroke-linecap="butt"/>
<path d="M762,441 L802,451" stroke-width="5" stroke-dasharray="7 5" stroke-linecap="butt"/>
<path d="M762,452 L802,462" stroke-width="5" stroke-dasharray="7 5" stroke-linecap="butt"/>
<path d="M762,463 L802,473" stroke-width="5" stroke-dasharray="7 5" stroke-linecap="butt"/>
<path d="M762,474 L802,484" stroke-width="5" stroke-dasharray="7 5" stroke-linecap="butt"/>
<path d="M762,485 L802,495" stroke-width="5" stroke-dasharray="7 5" stroke-linecap="butt"/>
<path d="M762,496 L802,506" stroke-width="5" stroke-dasharray="7 5" stroke-linecap="butt"/>
<path d="M762,507 L802,517" stroke-width="5" stroke-dasharray="7 5" stroke-linecap="butt"/>
<path d="M781,395 L781,515" stroke-width="3.5"/>
<ellipse cx="578" cy="197" rx="8" ry="6" stroke-width="4"/><ellipse cx="789" cy="321" rx="8" ry="6" stroke-width="4"/><ellipse cx="787" cy="969" rx="8" ry="7" stroke-width="4"/>
<path d="M570,188 L582,184 M781,312 L793,308 M779,960 L791,954" stroke-width="3"/>
<path d="M611,169 L716,108" stroke-width="3"/><circle cx="720" cy="106" r="6.5" fill="#000" stroke="none"/>
<path d="M819,293 L922,234" stroke-width="3"/><circle cx="926" cy="231" r="6.5" fill="#000" stroke="none"/>
<path d="M892,681 L931,658 M896,908 L933,884" stroke-width="3"/>
<path d="M772,533 L811,514 L861,542 L861,830 L822,856 L772,828 Z" fill="#fff" stroke-width="6"/>
<path d="M772,533 L822,564 L861,542 M822,564 L822,856" stroke-width="5"/>
<rect x="783" y="581" width="20" height="46" rx="9" stroke-width="5.5"/><rect x="783" y="756" width="20" height="46" rx="9" stroke-width="5.5"/>
<circle cx="790" cy="696" r="21" stroke-width="5"/><circle cx="793" cy="698" r="14" stroke-width="3.5"/>
<path d="M767,836 L767,880 L800,900 Q810,880 808,860 M770,846 L800,864" stroke-width="4.5"/>
<path d="M138,332 L392,188 L752,400 L505,540 Z" fill="#fff"/>
<path d="M505,528 L742,394" stroke-width="3.5"/>
<path d="M505,540 L752,400 L756,1082 L505,1222 Z" fill="#fff"/>
<path d="M641,520 Q640,508 650,502 L726,460 Q740,454 742,468 L742,505 Q742,515 733,520 L668,558 Q650,566 644,548 Z" stroke-width="6.5"/>
<path d="M654,523 Q653,515 660,511 L724,476 Q731,473 731,481 L731,500 Q731,507 725,511 L670,542 Q658,547 656,538 Z" stroke-width="4"/>
<path d="M740,1078 L740,1090 M548,1192 L548,1204" stroke-width="4"/>
<path d="M760,1030 Q772,1040 768,1066 M690,1122 Q700,1134 714,1124" stroke-width="5"/>
<path d="M136,336 L136,975 L500,1215 L505,540 Z" fill="#fff" stroke="none"/>
<path d="M138,332 L134,340 L134,975 M158,352 L158,960 M146,362 L146,690" stroke-width="5"/>
<path d="M146,370 L158,376 L158,400 L146,394 Z" stroke-width="3.5"/>
<path d="M166,362 L216,390 L216,640 L166,664 Z" fill="#111" stroke="none"/>
<path d="M178,370 L178,656 M198,380 L198,648" stroke="#fff" stroke-width="5"/>
<path d="M168,486 L212,462" stroke="#fff" stroke-width="6"/>
<path d="M224,410 L478,548 L478,905 L224,742 Z" fill="#0a0a0a" stroke-width="5"/>
<path d="M278,444 L278,772 M314,464 L314,796 M383,502 L383,840 M444,536 L444,880" stroke="#777" stroke-width="3"/>
<path d="M204,530 Q204,580 250,590 M258,572 L305,598 Q312,604 312,625 M268,590 L268,610 M296,604 L296,626" stroke="#ccc" stroke-width="4"/>
<path d="M204,530 Q204,575 226,586" stroke="#000" stroke-width="4"/>
<path d="M198,372 L388,478 L386,496 L200,392 Z" fill="#fff" stroke-width="4.5"/>
<path d="M202,384 L386,487" stroke-width="3"/>
<path d="M390,482 L441,510 L441,536 L390,508 Z" stroke-width="4.5" fill="#fff"/>
<circle cx="404" cy="503" r="3.5" fill="#000" stroke="none"/><circle cx="428" cy="516" r="3.5" fill="#000" stroke="none"/>
<path d="M450,518 L474,531 L474,546 L450,533 Z" stroke-width="4.5" fill="#fff"/>
<path d="M489,550 L489,1206" stroke-width="4.5"/>
<path d="M478,548 L505,540" stroke-width="8"/>
<path d="M253,810 L253,950 L170,985 M253,950 L296,965" stroke-width="3.5"/>
<path d="M160,830 L160,870 M152,870 L166,870" stroke-width="4"/>
<circle cx="222" cy="836" r="12" stroke-width="5" fill="#fff"/><path d="M234,826 L256,812 L262,822 L240,838" stroke-width="4.5" fill="#000"/>
<path d="M298,820 L298,1037 Q318,1110 420,1134 Q455,1140 472,1134" stroke-width="5.5"/>
<path d="M300,1050 Q325,1120 420,1146 Q455,1150 470,1146" stroke-width="3.5"/>
<path d="M105,686 L122,669 L211,633 L222,640 L222,752 L108,724 Z" fill="#fff" stroke="none"/>
<path d="M105,686 L122,669 L211,633 M118,690 L214,650 L224,655 M180,662 L180,680 M190,658 L190,676" stroke-width="4.5"/>
<path d="M105,686 L108,724 L458,926 L470,920 L466,894 L117,690 Z" fill="#fff" stroke-width="6.5"/>
<path d="M108,724 L116,740 L140,742 M430,912 L432,924 M458,926 L460,938" stroke-width="5"/>
<path d="M112,979 L158,960 L250,950 M112,979 L112,1012 L133,1025 L133,1058 Q140,1074 158,1083 L383,1208 Q430,1222 483,1208 L500,1217" stroke-width="6.5"/>
<path d="M154,1004 Q170,975 196,971 L275,992 Q262,1020 229,1037 Q190,1040 154,1004 Z" stroke-width="4.5" fill="#fff"/>
<path d="M172,1006 Q184,990 200,988 L248,1000 Q238,1015 222,1022 Q196,1024 172,1006 Z" stroke-width="3.5"/>
<path d="M196,980 L212,984 L208,994 L192,990 Z M222,986 L238,990 L234,1000 L218,996 Z M182,1008 L202,1014" stroke-width="3.5" fill="#000"/>
<path d="M217,1088 L275,1058 L290,1068 L233,1100 Z M317,1146 L362,1121 L379,1130 L330,1158 Z M262,1072 L345,1126 M245,1084 L328,1140" stroke-width="4.5"/>
<path d="M421,1166 Q440,1146 470,1152 L483,1162 Q475,1188 445,1192 Z" stroke-width="4.5" fill="#fff"/>
<path d="M438,1162 L458,1168 L453,1176 L434,1170 Z" fill="#000" stroke-width="2"/>
<path d="M470,1090 L484,1086 L484,1140 M472,1110 L484,1106" stroke-width="4"/>
<path d="M458,1222 L462,1236 Q480,1250 505,1232" stroke-width="5.5"/>
<path d="M547,308 L581,328 L622,306 L656,312 L661,261 L569,266 L592,284 Z" fill="#000" stroke-width="2"/>
<circle cx="28" cy="357" r="2" fill="#555" stroke="none"/>
</g>
<g id="fig13" transform="translate(455,930) scale(0.2)" stroke-linecap="round" stroke-linejoin="round" fill="none" stroke="#000" stroke-width="6.5">
<g transform="translate(110,-38)">
<path d="M138,332 L392,188 L752,400 L505,540 Z" fill="#fff"/>
<path d="M505,528 L742,394" stroke-width="3.5"/>
<path d="M505,540 L752,400 L756,1082 L505,1222 Z" fill="#fff"/>
<path d="M641,520 Q640,508 650,502 L726,460 Q740,454 742,468 L742,505 Q742,515 733,520 L668,558 Q650,566 644,548 Z" stroke-width="6.5"/>
<path d="M654,523 Q653,515 660,511 L724,476 Q731,473 731,481 L731,500 Q731,507 725,511 L670,542 Q658,547 656,538 Z" stroke-width="4"/>
<path d="M740,1078 L740,1090 M548,1192 L548,1204" stroke-width="4"/>
<path d="M760,1030 Q772,1040 768,1066 M690,1122 Q700,1134 714,1124" stroke-width="5"/>
<path d="M136,336 L136,975 L500,1215 L505,540 Z" fill="#fff" stroke="none"/>
<path d="M138,332 L134,340 L134,975 M158,352 L158,960 M146,362 L146,690" stroke-width="5"/>
<path d="M146,370 L158,376 L158,400 L146,394 Z" stroke-width="3.5"/>
<path d="M166,362 L216,390 L216,640 L166,664 Z" fill="#111" stroke="none"/>
<path d="M178,370 L178,656 M198,380 L198,648" stroke="#fff" stroke-width="5"/>
<path d="M168,486 L212,462" stroke="#fff" stroke-width="6"/>
<path d="M224,410 L478,548 L478,905 L224,742 Z" fill="#0a0a0a" stroke-width="5"/>
<path d="M278,444 L278,772 M314,464 L314,796 M383,502 L383,840 M444,536 L444,880" stroke="#777" stroke-width="3"/>
<path d="M204,530 Q204,580 250,590 M258,572 L305,598 Q312,604 312,625 M268,590 L268,610 M296,604 L296,626" stroke="#ccc" stroke-width="4"/>
<path d="M204,530 Q204,575 226,586" stroke="#000" stroke-width="4"/>
<path d="M198,372 L388,478 L386,496 L200,392 Z" fill="#fff" stroke-width="4.5"/>
<path d="M202,384 L386,487" stroke-width="3"/>
<path d="M390,482 L441,510 L441,536 L390,508 Z" stroke-width="4.5" fill="#fff"/>
<circle cx="404" cy="503" r="3.5" fill="#000" stroke="none"/><circle cx="428" cy="516" r="3.5" fill="#000" stroke="none"/>
<path d="M450,518 L474,531 L474,546 L450,533 Z" stroke-width="4.5" fill="#fff"/>
<path d="M489,550 L489,1206" stroke-width="4.5"/>
<path d="M478,548 L505,540" stroke-width="8"/>
<path d="M253,810 L253,950 L170,985 M253,950 L296,965" stroke-width="3.5"/>
<path d="M160,830 L160,870 M152,870 L166,870" stroke-width="4"/>
<circle cx="222" cy="836" r="12" stroke-width="5" fill="#fff"/><path d="M234,826 L256,812 L262,822 L240,838" stroke-width="4.5" fill="#000"/>
<path d="M298,820 L298,1037 Q318,1110 420,1134 Q455,1140 472,1134" stroke-width="5.5"/>
<path d="M300,1050 Q325,1120 420,1146 Q455,1150 470,1146" stroke-width="3.5"/>
<path d="M105,686 L122,669 L211,633 L222,640 L222,752 L108,724 Z" fill="#fff" stroke="none"/>
<path d="M105,686 L122,669 L211,633 M118,690 L214,650 L224,655 M180,662 L180,680 M190,658 L190,676" stroke-width="4.5"/>
<path d="M105,686 L108,724 L458,926 L470,920 L466,894 L117,690 Z" fill="#fff" stroke-width="6.5"/>
<path d="M108,724 L116,740 L140,742 M430,912 L432,924 M458,926 L460,938" stroke-width="5"/>
<path d="M112,979 L158,960 L250,950 M112,979 L112,1012 L133,1025 L133,1058 Q140,1074 158,1083 L383,1208 Q430,1222 483,1208 L500,1217" stroke-width="6.5"/>
<path d="M154,1004 Q170,975 196,971 L275,992 Q262,1020 229,1037 Q190,1040 154,1004 Z" stroke-width="4.5" fill="#fff"/>
<path d="M172,1006 Q184,990 200,988 L248,1000 Q238,1015 222,1022 Q196,1024 172,1006 Z" stroke-width="3.5"/>
<path d="M196,980 L212,984 L208,994 L192,990 Z M222,986 L238,990 L234,1000 L218,996 Z M182,1008 L202,1014" stroke-width="3.5" fill="#000"/>
<path d="M217,1088 L275,1058 L290,1068 L233,1100 Z M317,1146 L362,1121 L379,1130 L330,1158 Z M262,1072 L345,1126 M245,1084 L328,1140" stroke-width="4.5"/>
<path d="M421,1166 Q440,1146 470,1152 L483,1162 Q475,1188 445,1192 Z" stroke-width="4.5" fill="#fff"/>
<path d="M438,1162 L458,1168 L453,1176 L434,1170 Z" fill="#000" stroke-width="2"/>
<path d="M470,1090 L484,1086 L484,1140 M472,1110 L484,1106" stroke-width="4"/>
<path d="M458,1222 L462,1236 Q480,1250 505,1232" stroke-width="5.5"/>
</g>
<path d="M394,71 Q385,120 366,151 Q345,190 321,218 L284,258 L290,269 L299,266 Q325,246 351,232 Q380,222 399,210 L419,184" stroke-width="4.5"/>
<path d="M473,99 Q458,120 455,140 L451,172 M419,184 Q432,176 451,172" stroke-width="4.5"/>
<path d="M566,184 L629,148" stroke-width="3"/><circle cx="629" cy="148" r="6.5" fill="#000" stroke="none"/>
<path d="M290,362 L152,440" stroke-width="3"/><circle cx="152" cy="440" r="6.5" fill="#000" stroke="none"/>
<path d="M240,935 L178,902" stroke-width="3"/><circle cx="178" cy="902" r="6.5" fill="#000" stroke="none"/>
<path d="M860,1065 L925,1100" stroke-width="3"/><circle cx="925" cy="1100" r="6.5" fill="#000" stroke="none"/>
<path d="M660,1165 L735,1210" stroke-width="3"/><circle cx="735" cy="1210" r="6.5" fill="#000" stroke="none"/>
<path d="M551,214 L516,246 L543,250 L542,310 L573,330 L575,278 L603,292 Z" fill="#000" stroke-width="2"/>
<path d="M884,256 Q865,280 847,292 L799,325 Q770,335 743,343 Q720,355 699,373 L640,418 Q615,428 610,436 Q608,448 622,450 Q650,448 684,425 Q675,450 669,469 L651,529 Q648,548 660,553 Q680,552 699,536 L743,499 L773,469 Q760,490 758,499 Q758,512 770,516 Q790,518 800,510 L847,484 Q855,470 853,432 L840,425 L812,440 Q825,410 840,388 Q865,368 892,351 L969,306" fill="#fff" stroke-width="5"/>
<path d="M715,440 L672,535 M738,455 L690,540 M760,465 L722,515 M812,440 L780,462 M840,425 L790,452" stroke-width="3.5"/>
</g>
<g id="fig14" transform="translate(645,930) scale(0.2)" stroke-linecap="round" stroke-linejoin="round" fill="none" stroke="#000" stroke-width="7">
<path d="M147,1062 L171,1048 L520,1250 L640,1192 L836,1098 L836,1137 L647,1245 L529,1300 L513,1292 L147,1072 Z" fill="#fff" stroke-width="7.5"/>
<path d="M520,1250 L520,1292 M171,1048 L171,1060 M640,1192 L648,1198 L648,1243 M660,1200 L836,1110" stroke-width="5.8"/>
<path d="M560,1296 Q575,1318 600,1310 Q618,1300 614,1282" stroke-width="5.8" fill="#fff"/>
<path d="M770,1182 Q782,1200 805,1192 Q818,1182 816,1165" stroke-width="5.8" fill="#fff"/>
<path d="M217,331 L217,279 Q220,268 232,262 L301,225 L319,225 L350,246 L368,240 L398,234 L458,195 L744,358 L747,700 L700,740 L455,745 L348,700 L348,1040 L208,1050 L208,690 L217,680 Z" fill="#fff" stroke="none"/>
<path d="M217,279 L217,395 L208,402 L208,1052" stroke-width="7.5"/>
<path d="M247,290 L247,640 M261,660 L261,1000" stroke-width="4.6"/>
<path d="M232,328 L262,328 M240,326 L247,318 L254,326 Z" stroke-width="5.2" fill="#000"/>
<path d="M232,412 L262,412 M240,410 L247,402 L254,410 Z" stroke-width="5.2" fill="#000"/>
<path d="M232,484 L262,484 M240,482 L247,474 L254,482 Z" stroke-width="5.2" fill="#000"/>
<path d="M232,553 L262,553 M240,551 L247,543 L254,551 Z" stroke-width="5.2" fill="#000"/>
<path d="M246,665 L276,665 M254,663 L261,655 L268,663 Z" stroke-width="5.2" fill="#000"/>
<path d="M246,734 L276,734 M254,732 L261,724 L268,732 Z" stroke-width="5.2" fill="#000"/>
<path d="M246,865 L276,865 M254,863 L261,855 L268,863 Z" stroke-width="5.2" fill="#000"/>
<path d="M217,600 L230,610 L230,640 L245,650 M217,650 L208,660" stroke-width="5.8"/>
<path d="M348,712 L348,1015 M348,712 L455,770 M335,700 L335,1010" stroke-width="4.6"/>
<ellipse cx="296" cy="712" rx="26" ry="40" stroke-width="5.8" transform="rotate(-18 296 712)"/>
<ellipse cx="300" cy="714" rx="17" ry="30" stroke-width="4.0" transform="rotate(-18 300 714)"/>
<path d="M217,331 L217,279 Q220,268 232,262 L301,225 L319,225 L350,246 L368,240 L398,234" stroke-width="7.0"/>
<path d="M398,234 L458,195 L744,358 L693,394 Z" fill="#c4c4c4" stroke-width="6.9"/>
<path d="M232,264 L250,279 L554,451" stroke-width="8.0"/>
<path d="M242,260 L560,438 M350,246 L640,410 M368,240 L655,402" stroke-width="5.2"/>
<path d="M250,279 L250,300" stroke-width="4.6"/>
<path d="M693,394 L693,470 M744,358 L747,640 M712,384 L712,700 M693,394 L744,358" stroke-width="6.3"/>
<path d="M640,410 L668,395 L668,430 Z" stroke-width="4.6" fill="#fff"/>
<path d="M676,400 L676,440 M684,396 L684,445" stroke-width="4.6"/>
<path d="M722,405 Q742,407 740,419 Q738,431 722,429" stroke-width="5.8"/>
<path d="M722,440 Q742,442 740,454 Q738,466 722,464" stroke-width="5.8"/>
<path d="M722,470 Q742,472 740,484 Q738,496 722,494" stroke-width="5.8"/>
<path d="M722,530 Q742,532 740,544 Q738,556 722,554" stroke-width="5.8"/>
<path d="M722,590 Q742,592 740,604 Q738,616 722,614" stroke-width="5.8"/>
<circle cx="728" cy="534" r="10" stroke-width="4.6"/>
<path d="M722,498 Q760,490 776,526 Q784,566 742,592 L706,600" stroke-width="18.0"/>
<path d="M664,591 L697,604 L697,628 L664,615 Z M664,646 L697,658 L697,680 L664,668 Z" fill="#333" stroke-width="5.8"/>
<path d="M731,624 L801,657 Q812,664 810,680 Q808,692 771,713 L700,748" stroke-width="4.6"/>
<path d="M728,636 L794,668 Q802,674 800,684 Q796,694 765,708 L690,745" stroke-width="4.6"/>
<path d="M734,612 L808,647 Q822,656 820,676 Q816,700 778,720 L710,755" stroke-width="4.6"/>
<path d="M745,700 Q770,690 765,670 M735,690 Q735,720 760,715" stroke-width="4.6"/>
<path d="M300,470 L283,480 L305,570 L330,610 M305,570 L290,580" stroke-width="5.2"/>
<path d="M312,450 Q330,400 390,390 Q450,392 500,470 L520,500 L455,540 L455,640 L420,660 L330,610 Z" fill="#fff" stroke-width="5.8"/>
<path d="M405,395 Q470,420 502,492" stroke-width="17.0"/>
<path d="M340,420 Q380,400 420,420 Q445,440 460,470 M360,440 L420,470 L460,470 M420,470 L445,500 L455,520" stroke-width="4.6"/>
<ellipse cx="374" cy="542" rx="70" ry="98" fill="#fff" stroke-width="6.9" transform="rotate(-8 374 542)"/>
<ellipse cx="384" cy="552" rx="44" ry="62" stroke-width="6.3" transform="rotate(-8 384 552)"/>
<ellipse cx="384" cy="552" rx="36" ry="52" stroke-width="3.4" transform="rotate(-8 384 552)"/>
<path d="M384,552 L425,564" stroke-width="4.6"/>
<path d="M384,552 L407,602" stroke-width="4.6"/>
<path d="M384,552 L376,611" stroke-width="4.6"/>
<path d="M384,552 L349,585" stroke-width="4.6"/>
<path d="M384,552 L343,540" stroke-width="4.6"/>
<path d="M384,552 L361,502" stroke-width="4.6"/>
<path d="M384,552 L392,493" stroke-width="4.6"/>
<path d="M384,552 L419,519" stroke-width="4.6"/>
<circle cx="384" cy="552" r="5" fill="#000" stroke="none"/>
<path d="M225,590 L245,580 L455,700 M230,615 L250,625 L440,735 M330,610 L320,650 M400,650 L385,690 M420,660 L410,700 M300,640 L340,660 M232,600 L232,625" stroke-width="5.2"/>
<path d="M228,640 L455,770" stroke-width="5.8"/>
<path d="M455,526 L464,520 L599,442 L690,487 L690,731 L549,790 L536,788 L455,743 Z" fill="#fff" stroke-width="6.9"/>
<path d="M464,523 L536,571 L690,487 M536,571 L536,788" stroke-width="5.8"/>
<path d="M545,572 L545,770" stroke-width="4.0"/>
<ellipse cx="590" cy="497" rx="14" ry="5" fill="#000" stroke="none" transform="rotate(-14 590 497)"/>
<path d="M470,534 L478,538 M490,548 L500,552 M508,560 L520,566 M492,560 L492,570 M524,572 L524,584" stroke-width="4.6"/>
<path d="M548,600 L612,575 L612,680 L548,705 Z" fill="#fff" stroke-width="4.6"/>
<path d="M556,620 L572,614 L572,650 L556,656 Z M580,610 L600,603 L600,640 L580,648 Z M560,665 L600,650 M556,680 L604,662 M575,600 L575,690 M590,596 L590,686" stroke-width="5.2" fill="#777"/>
<path d="M548,600 L575,640 L612,575 M552,690 L560,660 L580,672" stroke-width="4.0"/>
<path d="M538,700 L638,668 L668,711 L549,768 Z" fill="#fff" stroke-width="5.8"/>
<path d="M625,672 L632,684 L645,680" stroke-width="4.0"/>
<path d="M549,778 L690,716 M560,790 L700,728 M575,770 L585,778 M600,760 L610,768 M625,748 L635,756 M650,738 L660,746" stroke-width="4.6"/>
<path d="M551,557 L558,528 L574,543 L638,530 L655,542 L655,643 L621,643 L621,592 L606,578 L575,582 L562,597 Z" fill="#000" stroke-width="2.3"/>
<path d="M612,572 L648,554 L634,586" stroke="#fff" stroke-width="4.6" fill="none"/>
<path d="M700,748 L747,747 L815,764 Q824,768 824,780 L824,823 L773,870 L769,1049 Q772,1080 786,1091 L837,1104 L837,1130 L662,1232" stroke-width="6.5"/>
<path d="M747,747 L768,738 L824,772 M760,800 L815,822 M790,770 L792,812 M760,870 L760,1130" stroke-width="4.6"/>
<path d="M815,764 L815,800" stroke-width="4.6"/>
<path d="M645,800 L645,1236 L664,1232 L664,1150 L692,1085 L692,945 M645,1143 L683,1074 L683,940" stroke-width="5.5"/>
<path d="M633,805 L633,1190" stroke-width="4.6"/>
<path d="M658,891 L675,900 L675,930 L658,921 Z M658,1011 L675,1015 L675,1062 L658,1053 Z" stroke-width="5" fill="#888"/>
<path d="M688,806 L739,781 Q756,780 756,800 L756,853 L752,862 L752,904 L735,917 L730,913 Q724,940 706,946 Q690,944 688,930 Z" fill="#fff" stroke-width="6"/>
<path d="M730,870 L752,862 M730,870 L730,913 M700,800 L700,812" stroke-width="4.6"/>
<circle cx="742" cy="903" r="6" fill="#333" stroke-width="3"/>
<path d="M655,820 L700,800 M655,840 L690,824 M655,860 L688,846" stroke-width="4.6"/>
<path d="M611,811 L611,1120 Q608,1160 580,1158 Q556,1150 550,1132" stroke-width="4.6"/>
<path d="M600,806 L600,1116 Q598,1148 580,1146 Q564,1142 558,1128" stroke-width="4.6"/>
<path d="M588,880 L588,1100" stroke-width="4"/>
<path d="M620,947 L649,938 L658,955 L658,972 L632,981 L620,994 Z" stroke-width="5" fill="#fff"/>
<path d="M586,960 L603,951 L603,998 L586,1006 Z" stroke-width="5" fill="#fff"/>
<circle cx="592" cy="990" r="5" fill="#444" stroke="none"/><circle cx="626" cy="990" r="5" fill="#444" stroke="none"/>
<path d="M575,1082 L590,1076 L590,1100 L575,1106 Z" stroke-width="4.6"/>
<path d="M289,1078 L300,1064 L363,1095 L513,1128 L520,1150 L450,1176 L293,1109 Z" fill="#fff" stroke-width="5.8"/>
<path d="M300,1080 L450,1150 L505,1135" stroke-width="4.0"/>
<circle cx="322" cy="1082" r="14" stroke-width="6.9" fill="#555"/><circle cx="480" cy="1150" r="13" stroke-width="6.9" fill="#555"/><circle cx="455" cy="1166" r="5" stroke-width="4.0"/>
<path d="M360,905 L360,1070 Q372,1104 420,1110 Q462,1110 480,1090 L480,880 L440,850 L370,860 Z" fill="#fff" stroke-width="6.3"/>
<path d="M368,820 Q372,800 400,798 Q430,800 440,815 L440,850 M368,820 L368,860" stroke-width="5.8"/>
<path d="M425,800 Q428,785 445,785 L500,800 L540,822 M432,808 Q436,796 448,796 L496,810 L530,830" stroke-width="4.6"/>
<path d="M455,955 L485,950 L485,965 L455,970 Z M465,1050 Q475,1040 485,1050 Q485,1064 470,1064" stroke-width="5.2"/>
<ellipse cx="410" cy="876" rx="44" ry="40" fill="#222" stroke-width="5.8"/>
<ellipse cx="404" cy="876" rx="34" ry="32" fill="#fff" stroke-width="4.6"/>
<ellipse cx="402" cy="876" rx="24" ry="23" fill="#444" stroke-width="4.6"/>
<ellipse cx="400" cy="877" rx="12" ry="12" fill="#fff" stroke-width="4.0"/>
<path d="M378,858 L425,895 M380,895 L424,858" stroke-width="4.6"/>
<path d="M445,850 Q462,862 460,890 Q458,905 448,912" stroke-width="9.0"/>
<path d="M645,764 L524,832 Q495,848 495,880 L495,1098 Q496,1128 524,1126 Q560,1122 560,1092 L560,892 Q558,868 540,868 Q522,870 522,892 L522,906" stroke="#000" stroke-width="21.0"/>
<path d="M645,764 L524,832 Q495,848 495,880 L495,1098 Q496,1128 524,1126 Q560,1122 560,1092 L560,892 Q558,868 540,868 Q522,870 522,892 L522,906" stroke="#a0a0a0" stroke-width="11.0"/>
<path d="M522,915 L522,1085 M535,930 L535,1080 M522,960 L548,960 M522,1000 L548,1000 M522,1040 L548,1040 M548,930 L548,1085" stroke-width="4.6"/>
<path d="M515,1085 L555,1085 L550,1108 L520,1108 Z" stroke-width="4.6" fill="#666"/>
<path d="M489,1212 Q500,1190 529,1180 L607,1188 Q615,1200 611,1212 L552,1243 Q520,1246 497,1235 Z" fill="#fff" stroke-width="5.8"/>
<path d="M505,1214 Q515,1200 535,1196 L590,1202 L548,1228 Q525,1230 505,1214 Z" stroke-width="4.0"/>
<path d="M540,1186 L556,1188 L552,1198 L536,1196 Z M566,1188 L584,1190 L580,1200 L562,1198 Z M515,1212 L535,1218" stroke-width="4.0" fill="#000"/>
<path d="M340,920 L452,876" stroke-width="7.0"/><path d="M340,920 L452,876" stroke="#fff" stroke-width="2.3"/>
<path d="M182,1046 L245,1072 L300,1040 L300,1022" stroke-width="5.2"/>
<path d="M53,1046 Q120,975 182,920 Q215,900 253,893 L332,889 Q348,892 356,905 Q380,912 387,924 Q390,936 372,946 Q350,956 320,962 L340,968 Q352,980 340,994 Q322,1010 285,1015 Q250,1024 230,1030 Q190,1036 167,1046 Q130,1080 100,1117" fill="#fff" stroke-width="5.8"/>
<path d="M200,968 Q192,985 198,1005 Q206,1018 222,1010 L300,972 Q312,960 304,944 L290,930 Q260,940 200,968 Z" fill="#fff" stroke-width="5.8"/>
<ellipse cx="207" cy="988" rx="12" ry="21" stroke-width="4.6" transform="rotate(-20 207 988)"/>
<path d="M253,925 Q300,905 340,910 Q360,915 372,925 M262,985 Q300,1000 338,990 M290,930 Q310,925 330,935 Q350,945 372,946 M300,972 Q320,980 340,968" stroke-width="4.6"/>
<path d="M384,903 L455,875" stroke-width="9"/><path d="M384,903 L455,875" stroke="#fff" stroke-width="3.5"/>
</g>
</svg>
</body>
</html>
